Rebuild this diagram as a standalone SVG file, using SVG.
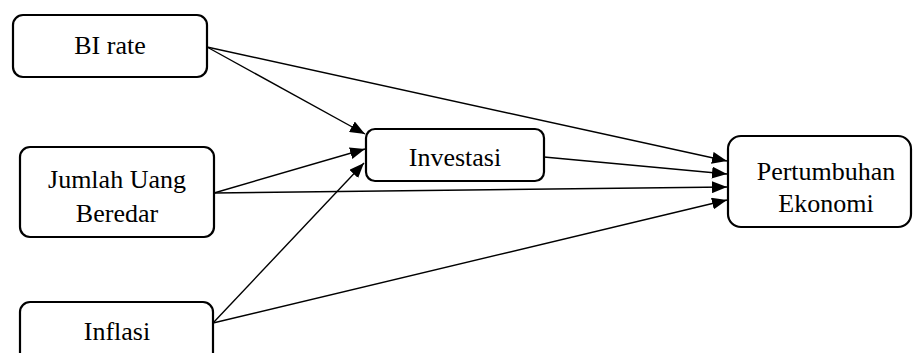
<svg xmlns="http://www.w3.org/2000/svg" width="913" height="353" viewBox="0 0 913 353">
<defs>
<marker id="ah" markerUnits="userSpaceOnUse" markerWidth="16" markerHeight="12" refX="15" refY="6" orient="auto">
<path d="M0,0 L15,6 L0,12 Z" fill="#000"/>
</marker>
<style>
.box{fill:#fff;stroke:#000;stroke-width:2.2}
.lbl{font-family:'Liberation Serif','Times New Roman',serif;font-size:26px;fill:#000;text-anchor:middle}
.edge{stroke:#000;stroke-width:1.4;fill:none;marker-end:url(#ah)}
</style>
</defs>
<rect width="913" height="353" fill="#fff"/>
<g id="connectors">
<line class="edge" x1="207" y1="47" x2="365" y2="134"/>
<line class="edge" x1="214" y1="193" x2="365" y2="149"/>
<line class="edge" x1="213" y1="323" x2="364" y2="163"/>
<line class="edge" x1="207" y1="47" x2="727" y2="161"/>
<line class="edge" x1="544" y1="157" x2="727" y2="174"/>
<line class="edge" x1="214" y1="193" x2="727" y2="187"/>
<line class="edge" x1="213" y1="323" x2="727" y2="200"/>
</g>
<g id="bi-rate">
<rect class="box" x="13" y="15" width="194" height="62" rx="10"/>
<text class="lbl" x="110" y="54">BI rate</text>
</g>
<g id="jumlah-uang-beredar">
<rect class="box" x="20" y="147" width="194" height="90" rx="10"/>
<text class="lbl" x="117" y="188">Jumlah Uang</text>
<text class="lbl" x="117" y="222">Beredar</text>
</g>
<g id="inflasi">
<rect class="box" x="20" y="302" width="193" height="70" rx="10"/>
<text class="lbl" x="117" y="340">Inflasi</text>
</g>
<g id="investasi">
<rect class="box" x="366" y="129" width="178" height="52" rx="9"/>
<text class="lbl" x="455" y="166">Investasi</text>
</g>
<g id="pertumbuhan-ekonomi">
<rect class="box" x="728" y="136" width="183" height="91" rx="13"/>
<text class="lbl" x="826" y="180">Pertumbuhan</text>
<text class="lbl" x="826" y="212">Ekonomi</text>
</g>
</svg>
